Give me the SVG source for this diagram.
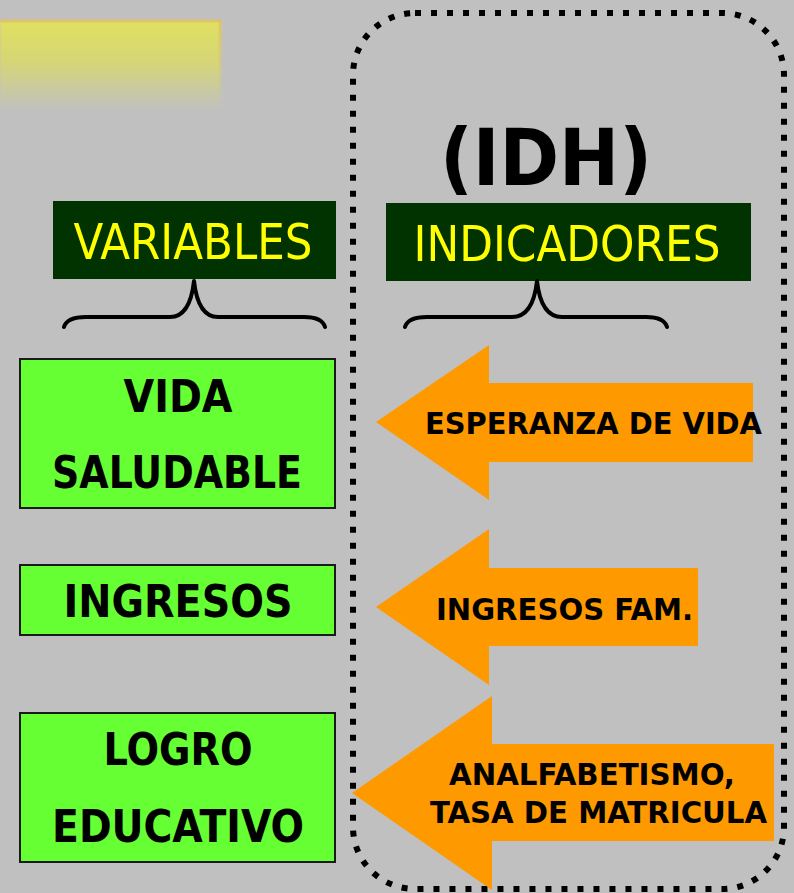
<svg xmlns="http://www.w3.org/2000/svg" width="794" height="893" viewBox="0 0 794 893">
  <defs>
    <linearGradient id="yg" x1="0" y1="0" x2="0" y2="1">
      <stop offset="0" stop-color="#E0E062"/>
      <stop offset="0.45" stop-color="#D6D676"/>
      <stop offset="0.8" stop-color="#C8C8A6"/>
      <stop offset="1" stop-color="#C0C0C0"/>
    </linearGradient>
    <linearGradient id="ye" x1="0" y1="0" x2="0" y2="1">
      <stop offset="0" stop-color="#E8B850"/>
      <stop offset="1" stop-color="#C0C0C0" stop-opacity="0"/>
    </linearGradient>
    <filter id="blur" x="-5%" y="-10%" width="110%" height="120%">
      <feGaussianBlur stdDeviation="1.2"/>
    </filter>
  </defs>
  <style>
    .hdr { fill: #003300; }
    .hdrtxt { font-family: "DejaVu Sans Condensed", "DejaVu Sans", sans-serif; fill: #FFFF00; text-anchor: middle; }
    .box { fill: #66FF33; stroke: #1a1a1a; stroke-width: 2; }
    .b { font-family: "DejaVu Sans Condensed", "DejaVu Sans", sans-serif; font-weight: bold; fill: #000; }
    .arrow { fill: #FF9900; }
    .brace { fill: none; stroke: #000; stroke-width: 4; stroke-linecap: round; stroke-linejoin: round; }
  </style>
  <rect x="0" y="0" width="794" height="893" fill="#C0C0C0"/>

  <g id="banner">
    <rect x="0" y="21" width="221" height="90" fill="url(#yg)" filter="url(#blur)"/>
    <rect x="0" y="20" width="221" height="2" fill="#E6BC55" filter="url(#blur)"/>
    <rect x="219" y="20" width="2" height="90" fill="url(#ye)" filter="url(#blur)"/>
  </g>

  <g id="idh-frame">
    <rect x="353" y="13" width="431" height="876" rx="62" ry="62" fill="none" stroke="#000" stroke-width="6" stroke-dasharray="6 10"/>
    <text x="546" y="185" class="b" font-size="78" text-anchor="middle" textLength="212" lengthAdjust="spacingAndGlyphs">(IDH)</text>
  </g>

  <g id="variables">
    <rect class="hdr" x="53" y="201" width="283" height="78"/>
    <text class="hdrtxt" x="193" y="259" font-size="49" textLength="239" lengthAdjust="spacingAndGlyphs">VARIABLES</text>
  </g>
  <g id="indicadores">
    <rect class="hdr" x="386" y="203" width="365" height="78"/>
    <text class="hdrtxt" x="567" y="261" font-size="49" textLength="307" lengthAdjust="spacingAndGlyphs">INDICADORES</text>
  </g>

  <g id="connectors">
    <path class="brace" d="M64,327 Q67,317 86,317 L170,317 Q190,317 194,281 Q198,317 218,317 L304,317 Q322,317 325,327"/>
    <path class="brace" d="M405,327 Q408,317 427,317 L512,317 Q533,317 537,281 Q541,317 562,317 L646,317 Q664,317 667,327"/>
  </g>

  <g id="vida-saludable">
    <rect class="box" x="20" y="359" width="315" height="149"/>
    <text class="b" x="178" y="412" font-size="44" text-anchor="middle" textLength="109" lengthAdjust="spacingAndGlyphs">VIDA</text>
    <text class="b" x="177" y="488" font-size="44" text-anchor="middle" textLength="250" lengthAdjust="spacingAndGlyphs">SALUDABLE</text>
  </g>
  <g id="ingresos">
    <rect class="box" x="20" y="565" width="315" height="70"/>
    <text class="b" x="178" y="617" font-size="44" text-anchor="middle" textLength="229" lengthAdjust="spacingAndGlyphs">INGRESOS</text>
  </g>
  <g id="logro-educativo">
    <rect class="box" x="20" y="713" width="315" height="149"/>
    <text class="b" x="178" y="765" font-size="44" text-anchor="middle" textLength="149" lengthAdjust="spacingAndGlyphs">LOGRO</text>
    <text class="b" x="178" y="842" font-size="44" text-anchor="middle" textLength="252" lengthAdjust="spacingAndGlyphs">EDUCATIVO</text>
  </g>

  <g id="esperanza">
    <polygon class="arrow" points="376,422 489,345 489,383 753,383 753,462 489,462 489,500"/>
    <text class="b" x="425" y="434" font-size="31" textLength="337" lengthAdjust="spacingAndGlyphs">ESPERANZA DE VIDA</text>
  </g>
  <g id="ingresos-fam">
    <polygon class="arrow" points="376,607 489,529 489,568 698,568 698,646 489,646 489,685"/>
    <text class="b" x="436" y="620" font-size="31" textLength="257" lengthAdjust="spacingAndGlyphs">INGRESOS FAM.</text>
  </g>
  <g id="analfabetismo">
    <polygon class="arrow" points="352,793 492,696 492,744 774,744 774,841 492,841 492,890"/>
    <text class="b" x="449" y="785" font-size="31" textLength="286" lengthAdjust="spacingAndGlyphs">ANALFABETISMO,</text>
    <text class="b" x="430" y="823" font-size="31" textLength="337" lengthAdjust="spacingAndGlyphs">TASA DE MATRICULA</text>
  </g>
</svg>
